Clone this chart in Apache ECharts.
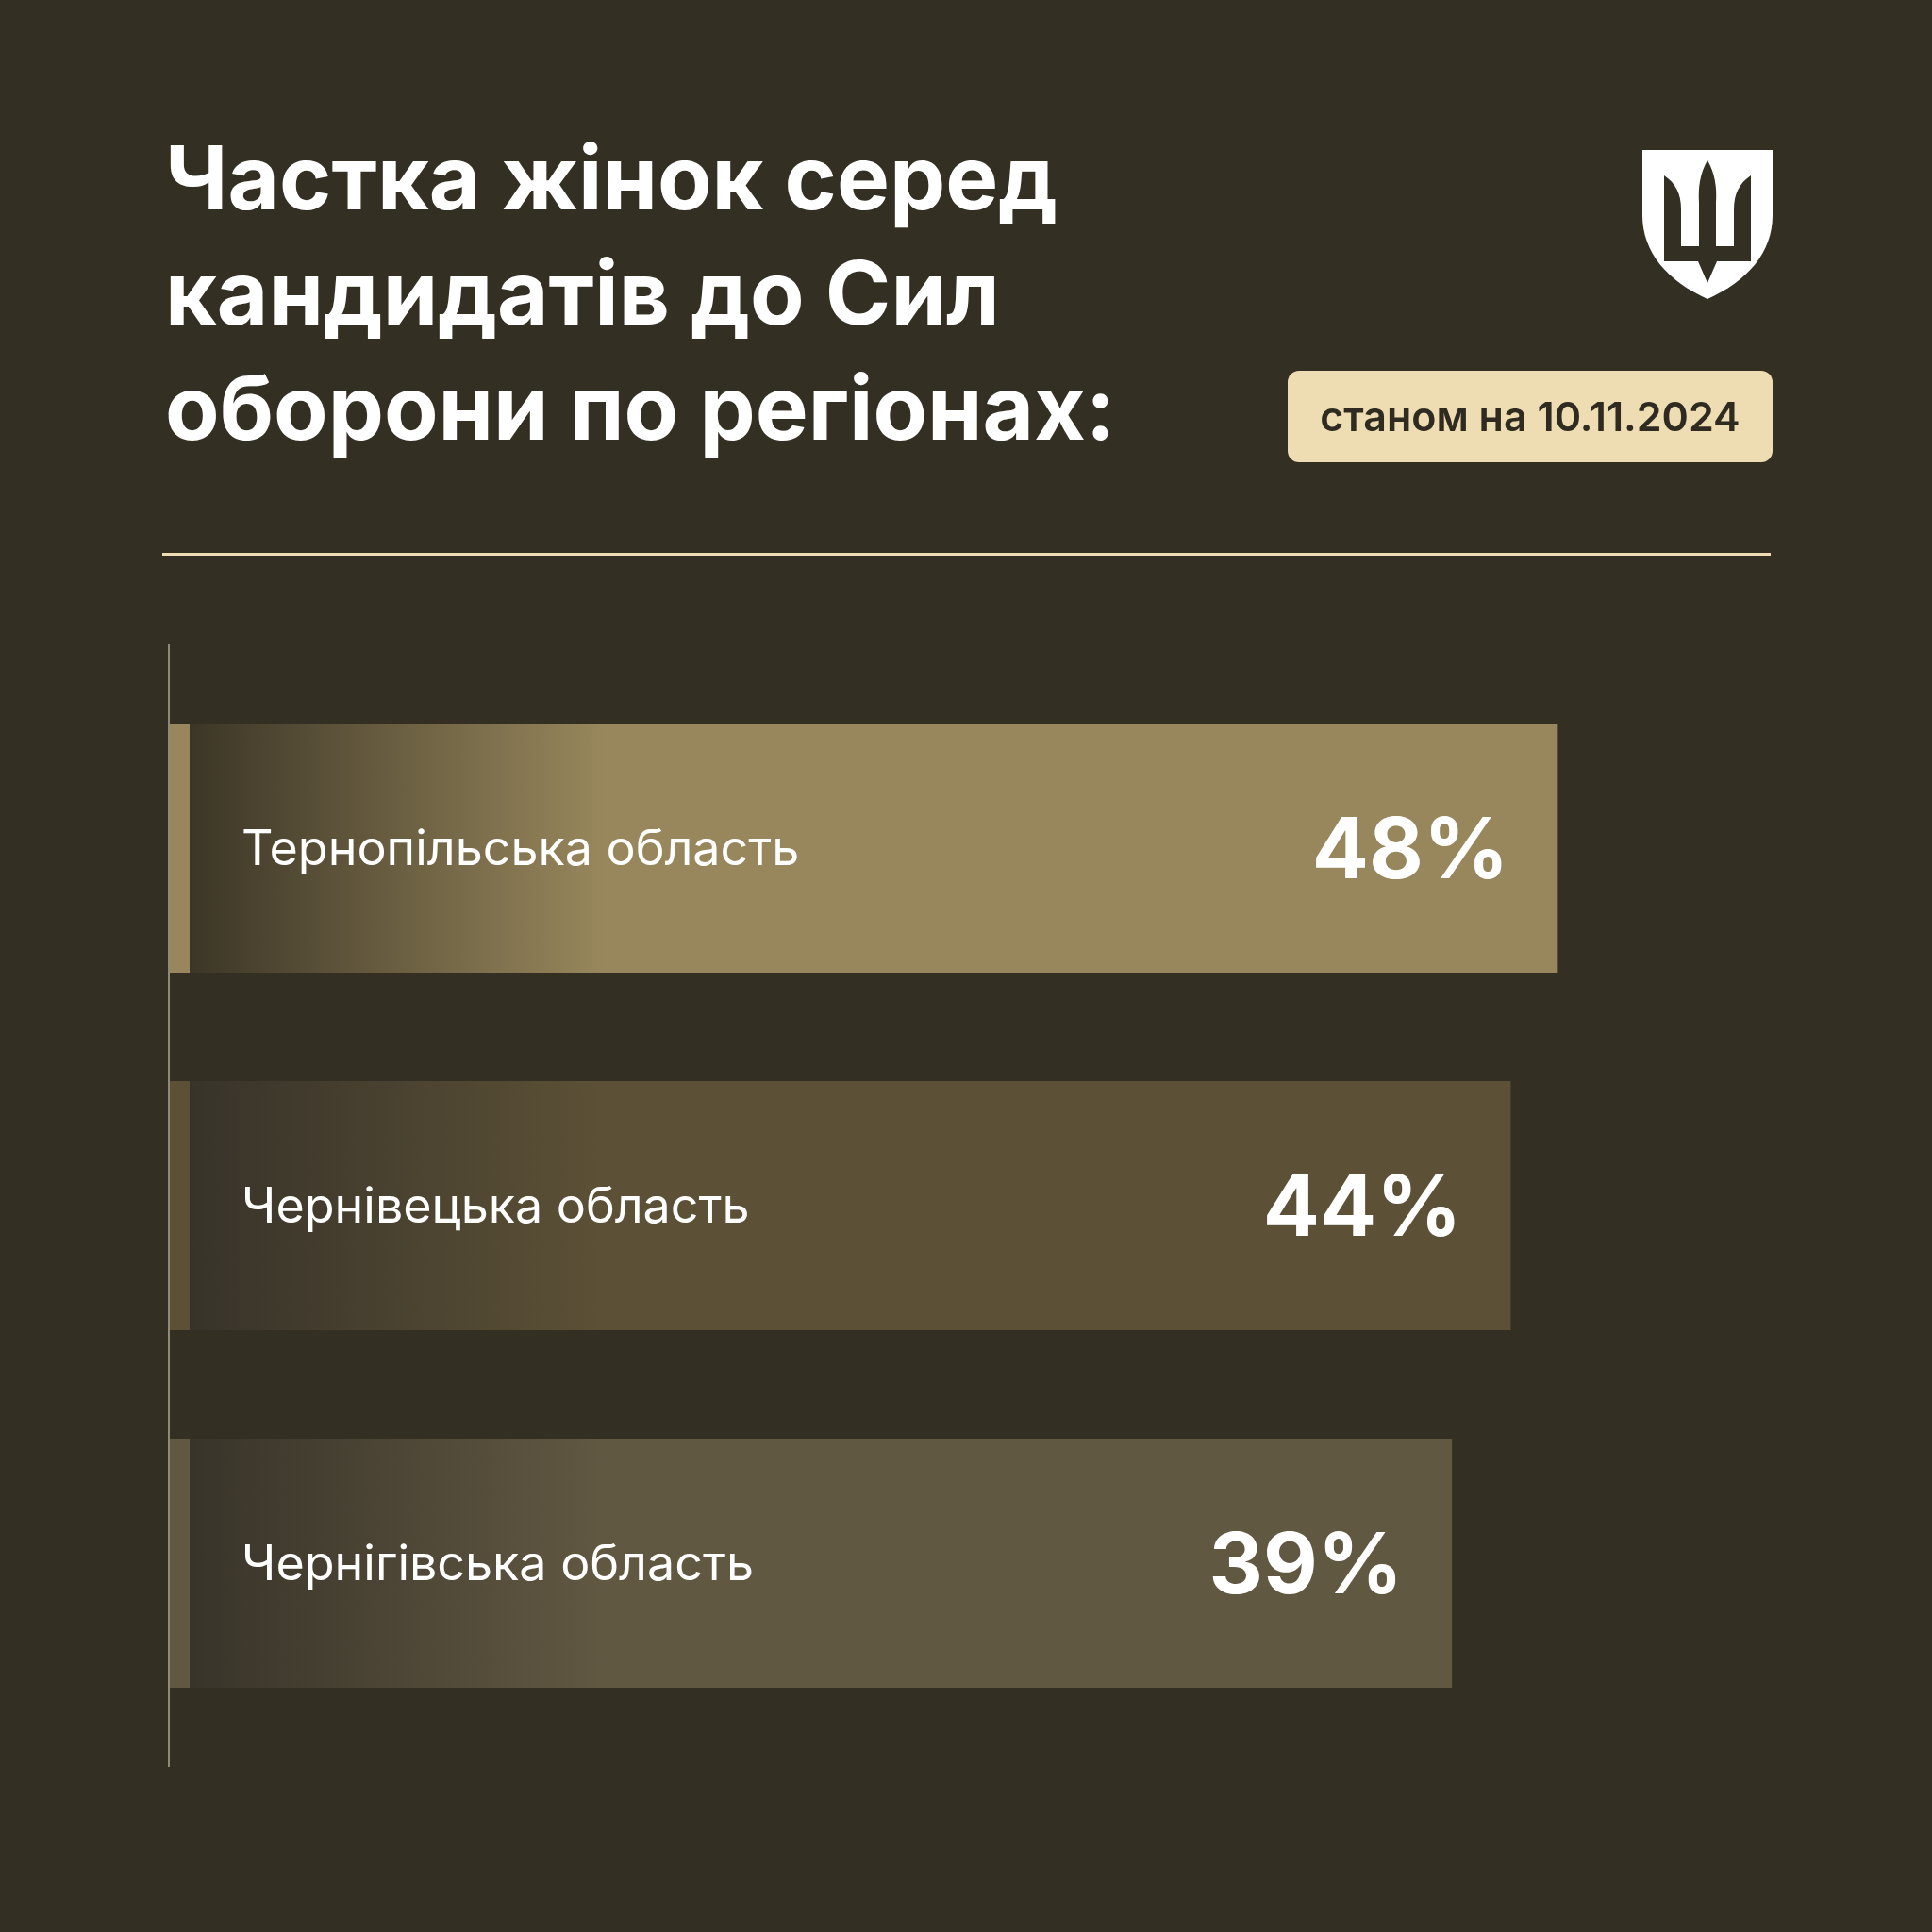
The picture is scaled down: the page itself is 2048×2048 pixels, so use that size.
<!DOCTYPE html>
<html>
<head>
<meta charset="utf-8">
<script src="https://cdn.jsdelivr.net/npm/echarts@6/dist/echarts.min.js"></script>
<style>
html,body{margin:0;padding:0;background:#332f22;}
#chart{width:2048px;height:2048px;}
</style>
</head>
<body>
<div id="chart"></div>
<script>
// ---- data ----
const regions = ['Тернопільська область', 'Чернівецька область', 'Чернігівська область'];
const shares = [48, 44, 39];
const titleLines = ['Частка жінок серед', 'кандидатів до Сил', 'оборони по регіонах:'];
const dateLabel = 'станом на 10.11.2024';

// ---- style ----
const BG = '#332f22';
const barColors = ['#98875c', '#5c5136', '#615842'];
const barDark = ['#3c3627', '#38332a', '#39342a'];
const FONT = 'Inter, "Noto Sans", sans-serif';

// sample cubic bezier segments into polygon points (for the logo)
function cubic(p0, p1, p2, p3, n) {
  const pts = [];
  for (let k = 1; k <= n; k++) {
    const t = k / n, u = 1 - t;
    pts.push([
      u*u*u*p0[0] + 3*u*u*t*p1[0] + 3*u*t*t*p2[0] + t*t*t*p3[0],
      u*u*u*p0[1] + 3*u*u*t*p1[1] + 3*u*t*t*p2[1] + t*t*t*p3[1]
    ]);
  }
  return pts;
}
const shieldPts = [[1741,159],[1879,159],[1879,228]]
  .concat(cubic([1879,228],[1879,268],[1852,298],[1810,317],16))
  .concat(cubic([1810,317],[1768,298],[1741,268],[1741,228],16));
const tridentPts = [[1764,186]]
  .concat(cubic([1764,186],[1776,194],[1782,205],[1782,222],8))
  .concat([[1782,261],[1801,261],[1801,215]])
  .concat(cubic([1801,215],[1800,198],[1802,184],[1810,170],8))
  .concat(cubic([1810,170],[1818,184],[1820,198],[1819,215],8))
  .concat([[1819,261],[1838,261],[1838,222]])
  .concat(cubic([1838,222],[1838,205],[1844,194],[1856,186],8))
  .concat([[1856,277],[1820,277],[1810,300],[1800,277],[1764,277]]);

const chart = echarts.init(document.getElementById('chart'), null, {renderer: 'canvas'});

function renderItem(params, api) {
  const i = params.dataIndex;
  const end = api.coord([api.value(0), api.value(1)]);
  const band = api.size([0, 1])[1];
  const h = band * 0.697;
  const x0 = params.coordSys.x;
  const y0 = end[1] - h / 2;
  const w = end[0] - x0;
  const gradW = 460;
  const strip = 21 / gradW;
  const fill = {
    type: 'linear', x: x0, y: 0, x2: x0 + gradW, y2: 0, global: true,
    colorStops: [
      {offset: 0, color: barColors[i]},
      {offset: strip, color: barColors[i]},
      {offset: strip + 0.001, color: barDark[i]},
      {offset: 1, color: barColors[i]}
    ]
  };
  return {
    type: 'group',
    children: [
      {type: 'rect', shape: {x: x0, y: y0, width: w, height: h}, style: {fill: fill}},
      {type: 'text', x: x0 + 76, y: end[1] + 2,
        style: {text: regions[i], fill: '#ffffff', font: '400 52px ' + FONT, textAlign: 'left', textVerticalAlign: 'middle'}},
      {type: 'text', x: end[0] - 52, y: end[1] + 5,
        style: {text: api.value(0) + '%', fill: '#ffffff', font: '700 89px ' + FONT, textAlign: 'right', textVerticalAlign: 'middle'}}
    ]
  };
}

const option = {
  backgroundColor: BG,
  animation: false,
  grid: {left: 180, right: 60, top: 709.5, bottom: 201.5},
  xAxis: {type: 'value', min: -70, max: 75, show: false},
  yAxis: {type: 'category', data: regions, inverse: true, show: false},
  series: [{
    type: 'custom',
    renderItem: renderItem,
    encode: {x: 0, y: 1},
    data: shares.map((v, i) => [v, i])
  }],
  graphic: [
    {type: 'text', x: 175, y: 194, style: {text: titleLines[0], fill: '#ffffff', font: '700 94px ' + FONT, textVerticalAlign: 'middle'}},
    {type: 'text', x: 175, y: 316, style: {text: titleLines[1], fill: '#ffffff', font: '700 94px ' + FONT, textVerticalAlign: 'middle'}},
    {type: 'text', x: 175, y: 438, style: {text: titleLines[2], fill: '#ffffff', font: '700 94px ' + FONT, textVerticalAlign: 'middle'}},
    // date badge
    {type: 'rect', shape: {x: 1365, y: 393, width: 514, height: 97, r: 12}, style: {fill: '#eedcb3'}},
    {type: 'text', x: 1622, y: 444, style: {text: dateLabel, fill: '#2f2b20', font: '600 43px ' + FONT, textAlign: 'center', textVerticalAlign: 'middle'}},
    // divider
    {type: 'rect', shape: {x: 172, y: 586, width: 1705, height: 3}, style: {fill: '#eedcb3'}},
    // vertical axis rule
    {type: 'rect', shape: {x: 178, y: 683, width: 2, height: 1190}, style: {fill: '#8f8a76'}},
    // shield logo
    {type: 'polygon', shape: {points: shieldPts}, style: {fill: '#ffffff'}},
    {type: 'polygon', shape: {points: tridentPts}, style: {fill: BG}}
  ]
};
chart.setOption(option);
</script>
</body>
</html>
